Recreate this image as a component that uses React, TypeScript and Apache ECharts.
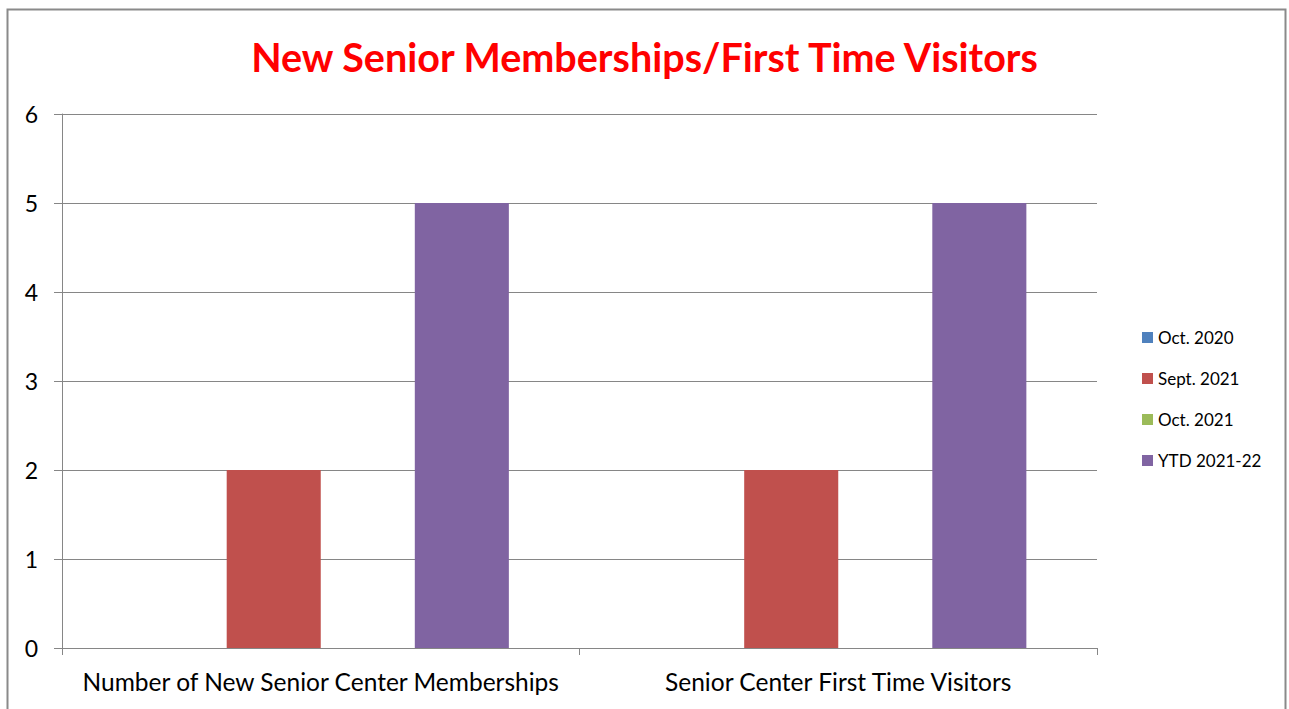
import React, { useEffect, useRef } from "react";
import * as echarts from "echarts";

const categories = ["Number of New Senior Center Memberships", "Senior Center First Time Visitors"];
const seriesNames = ["Oct. 2020", "Sept. 2021", "Oct. 2021", "YTD 2021-22"];
const oct2020 = [0, 0];
const sept2021 = [2, 2];
const oct2021 = [0, 0];
const ytd202122 = [5, 5];
const colors = ["#4F81BD", "#C0504D", "#9BBB59", "#8064A2"];

export default function App() {
  const ref = useRef<HTMLDivElement>(null);
  useEffect(() => {
    if (!ref.current) return;
    const chart = echarts.init(ref.current, null, { renderer: "svg" });
    const values = [oct2020, sept2021, oct2021, ytd202122];
    const font = "Lato, 'Open Sans', sans-serif";
    chart.setOption({
      animation: false,
      textStyle: { fontFamily: font },
      title: {
        text: "New Senior Memberships/First Time Visitors",
        left: "center",
        top: 31,
        textStyle: { color: "#FF0000", fontSize: 39.5, fontWeight: "bold", fontFamily: font },
      },
      graphic: [
        {
          type: "rect",
          shape: { x: 7.5, y: 9.5, width: 1278, height: 730 },
          style: { fill: "none", stroke: "#8A8A8A", lineWidth: 2 },
          silent: true,
        },
      ],
      legend: {
        orient: "vertical",
        left: 1137,
        top: 324,
        itemWidth: 11,
        itemHeight: 11,
        itemGap: 24,
        data: seriesNames,
        icon: "rect",
        textStyle: { fontSize: 17, color: "#000", fontFamily: font },
      },
      grid: { left: 62, right: 192, top: 114, bottom: 61, containLabel: false },
      xAxis: {
        type: "category",
        data: categories,
        axisLine: { show: true, lineStyle: { color: "#868686", width: 1 } },
        axisTick: { show: true, length: 7, lineStyle: { color: "#868686" } },
        axisLabel: { color: "#000", fontSize: 24.5, margin: 21, interval: 0, fontFamily: font },
      },
      yAxis: {
        type: "value",
        min: 0,
        max: 6,
        interval: 1,
        axisLine: { show: true, lineStyle: { color: "#868686", width: 1 } },
        axisTick: { show: true, length: 8, inside: false, lineStyle: { color: "#868686" } },
        splitLine: { show: true, lineStyle: { color: "#868686", width: 1 } },
        axisLabel: { color: "#000", fontSize: 23, margin: 24, fontFamily: font },
      },
      series: seriesNames.map((name, i) => ({
        name,
        type: "bar",
        data: values[i],
        itemStyle: { color: colors[i] },
        barGap: "0%",
        barCategoryGap: "27.3%",
      })),
    });
    return () => chart.dispose();
  }, []);
  return (
    <div
      ref={ref}
      style={{ position: "absolute", left: 0, top: 0, width: 1289, height: 709, background: "#fff" }}
    />
  );
}
